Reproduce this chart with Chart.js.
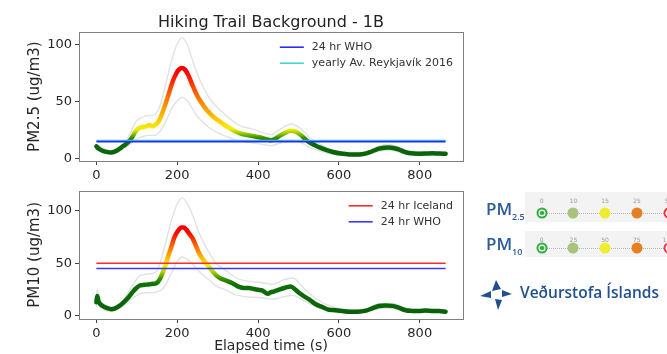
<!DOCTYPE html>
<html>
<head>
<meta charset="utf-8">
<script src="https://cdn.jsdelivr.net/npm/chart.js@4.4.0/dist/chart.umd.min.js"></script>
<style>
  body { margin: 0; background: #fff; width: 667px; height: 354px; overflow: hidden; position: relative; font-family: "DejaVu Sans", sans-serif; }
  canvas { position: absolute; left: 0; }
  #topChart { top: 0; }
  #botChart { top: 180px; }
  .abs { position: absolute; white-space: nowrap; }
  .box { background: #f3f3f3; }
  .pm { font-family: "Open Sans", sans-serif; font-weight: 600; color: #2d5b98; font-size: 17px; line-height: 1; }
  .sub { font-family: "Open Sans", sans-serif; font-weight: 600; color: #2d5b98; font-size: 9px; line-height: 1; }
  .num { font-size: 6px; color: #9a9a9a; line-height: 1; transform: translateX(-50%); }
  .dot { width: 11px; height: 11px; border-radius: 50%; box-sizing: border-box; transform: translate(-50%, -50%); }
  .dots { border-top: 1px dotted #b5b5b5; height: 0; }
  .logo { font-family: "Open Sans", sans-serif; font-weight: 600; color: #21508f; font-size: 15.5px; line-height: 1; }
</style>
</head>
<body>
<canvas id="topChart" width="480" height="186"></canvas>
<canvas id="botChart" width="480" height="174"></canvas>
<div id="panel"></div>
<script>
// elapsed time (s) and PM2.5 mean (ug/m3)
var pm25Time = [0,5,15,25,37,50,62,74,85,99,107,115,125,131,138,143,150,156,164,172,180,189,198,205,212,218,225,232,239,247,255,267,280,292,305,317,329,341,354,370,387,403,420,432,442,453,466,480,495,507,517,527,540,552,568,585,605,626,650,665,675,687,699,712,724,737,749,761,773,786,798,815,831,848,864];
var pm25Mean = [10.8,9,7,6,5.5,7,10,13,17,25,27,27.8,28.5,29.5,28.5,29,31,34,41,49,58,68,75,78.5,79.5,78.5,75,69.5,63.4,57,51.8,45.5,40,36,32.7,29.5,27,24.5,22.5,21,20,18.8,17.2,16.3,17.5,20,22.5,24.5,23.5,20.5,17,14.3,12,10,7.8,5.9,4.5,3.8,3.8,4.5,5.5,7.2,8.8,9.7,9.9,9.2,7.9,6.2,5,4.5,4.4,4.5,4.7,4.5,4.4];
// PM2.5 spread (upper / lower grey lines)
var pm25BandTime = [0,37,74,99,115,131,143,156,172,189,205,212,225,239,255,280,305,329,354,387,420,432,453,482,507,527,552,585,626,650,675,699,724,749,773,798,831,864];
var pm25Upper = [12.5,7,16,33,36.5,38,38.5,45,66,90,104,106,100,85,70,53,43,35.5,29,26,22,21,25.5,30.5,26,18.5,13,7.7,5,5,7,11,12.5,10,6.5,5.7,6,5.7];
var pm25Lower = [9,4,10,17,19.5,20.5,20.5,23.5,33,46,52.5,53.8,51,43,35,27,22,18.5,15.5,14,12,11.5,13.5,16.5,14,10,7,4,2.6,2.6,4,6.5,7.3,5.8,3.6,3.2,3.4,3.2];
var pm25RefValues = [15, 16];
var pm25RefLabels = ['24 hr WHO', 'yearly Av. Reykjavík 2016'];

// PM10
var pm10Time = [0,2,5,10,20,30,37,45,55,66,78,91,99,107,118,131,140,148,157,165,171,177,185,193,202,210,216,222,230,239,247,255,265,276,286,296,308,321,337,350,365,378,390,400,410,424,432,440,452,465,481,492,502,512,527,543,558,572,585,605,626,647,667,685,699,715,732,748,765,781,798,815,831,848,864];
var pm10Mean = [13,19,14,11,8.5,7,6.2,6.8,9,12.4,17,23.3,26.5,28.9,29.5,30,30.5,31,35,42,48,56,65,74.6,81,84,84,82.3,78,73,66,59,53,48,43,38.8,35.5,33.5,31,28,26.5,26.4,25.5,24.8,24.2,21,22.5,23.3,24.9,26.5,28,25,21.7,19,15.5,11,8.5,6.2,5.5,4.8,4,4,5,7.5,9.3,9.8,9.5,7.8,5.3,4.7,4.5,5,4.6,4.5,4];
var pm10BandTime = [0,2,10,37,66,91,107,131,148,165,185,202,212,225,239,255,276,296,321,346,375,400,420,437,461,486,511,544,585,626,667,699,732,765,798,831,864];
var pm10Upper = [18,25,14,8,15,30,38,40,42,60,90,108,112,107,95,78,62,50,43,36,33,32,31,30,34,36,27,16,8.5,5.5,6.5,11.5,12,7,6,6,5.5];
var pm10Lower = [9,13,8,4.5,9.5,17,21,22,22.5,26,40,53,56,54,49,42,35,28.5,24.5,20,18,17.5,16.5,16,18,19.5,15,8.5,4.5,2.8,3.5,7,7,4,3.5,3.5,3];
var pm10RefValues = [50, 45];
var pm10RefLabels = ['24 hr Iceland', '24 hr WHO'];

var xTicks = [0, 200, 400, 600, 800];
var yTicks = [0, 50, 100];

// side panel scales
var pm25Scale = ['0', '10', '15', '25', '50'];
var pm10Scale = ['0', '25', '50', '75', '100'];

Chart.defaults.font.family = 'DejaVu Sans';
Chart.defaults.color = '#262626';

function pts(xs, ys) {
  return xs.map(function (x, i) { return { x: x, y: ys[i] }; });
}

function refLine(times, v) {
  return [{ x: times[0], y: v }, { x: times[times.length - 1], y: v }];
}

// colour of the mean line depends on its value -> vertical gradient
function valueGradient(stops) {
  return function (context) {
    var chart = context.chart;
    if (!chart.chartArea) return stops[0][1];
    var y = chart.scales.y;
    var top = stops[stops.length - 1][0];
    var g = chart.ctx.createLinearGradient(0, y.getPixelForValue(0), 0, y.getPixelForValue(top));
    stops.forEach(function (s) { g.addColorStop(s[0] / top, s[1]); });
    return g;
  };
}

var framePlugin = {
  id: 'frame',
  afterDatasetsDraw: function (chart) {
    var a = chart.chartArea, ctx = chart.ctx;
    ctx.save();
    ctx.strokeStyle = '#808080';
    ctx.lineWidth = 1;
    ctx.strokeRect(Math.round(a.left) + 0.5, Math.round(a.top) + 0.5, Math.round(a.right - a.left), Math.round(a.bottom - a.top));
    ctx.restore();
  }
};

var insideLegend = {
  id: 'insideLegend',
  afterDatasetsDraw: function (chart) {
    var items = chart.data.datasets.filter(function (d) { return d.inLegend; });
    var a = chart.chartArea, ctx = chart.ctx;
    ctx.save();
    ctx.font = '11px "DejaVu Sans"';
    var w = 0;
    items.forEach(function (d) { w = Math.max(w, ctx.measureText(d.label).width); });
    var left = a.right - 10 - w - 32;
    items.forEach(function (d, i) {
      var y = a.top + 15 + i * 16;
      ctx.strokeStyle = d.borderColor;
      ctx.lineWidth = 1.6;
      ctx.beginPath();
      ctx.moveTo(left, y);
      ctx.lineTo(left + 24, y);
      ctx.stroke();
      ctx.fillStyle = '#333';
      ctx.textBaseline = 'middle';
      ctx.fillText(d.label, left + 32, y);
    });
    ctx.restore();
  }
};

function makeChart(id, o) {
  var datasets = [
    { label: 'upper', data: pts(o.bandTime, o.upper), borderColor: '#e2e2e2', borderWidth: 1.4, pointRadius: 0, tension: 0.4, cubicInterpolationMode: 'monotone', order: 5 },
    { label: 'lower', data: pts(o.bandTime, o.lower), borderColor: '#e2e2e2', borderWidth: 1.4, pointRadius: 0, tension: 0.4, cubicInterpolationMode: 'monotone', order: 5 },
    { label: 'mean', data: pts(o.time, o.mean), borderColor: valueGradient(o.stops), borderWidth: 4.5, pointRadius: 0, tension: 0.4, cubicInterpolationMode: 'monotone', borderCapStyle: 'round', order: 3 }
  ];
  o.refValues.forEach(function (v, i) {
    datasets.push({ label: o.refLabels[i], data: refLine(o.time, v), borderColor: o.refColors[i], borderWidth: 1.6, pointRadius: 0, inLegend: true, order: o.refOrder[i] });
  });
  return new Chart(document.getElementById(id), {
    type: 'line',
    data: { datasets: datasets },
    plugins: [framePlugin, insideLegend],
    options: {
      responsive: false,
      animation: false,
      layout: { padding: o.padding },
      plugins: {
        legend: { display: false },
        tooltip: { enabled: false },
        title: { display: !!o.title, text: o.title, fullSize: false, color: '#222', font: { size: 16, weight: 'normal' }, padding: { top: 13, bottom: 0 } }
      },
      scales: {
        x: {
          type: 'linear', min: -43, max: 907,
          afterBuildTicks: function (s) { s.ticks = xTicks.map(function (v) { return { value: v }; }); },
          afterFit: function (s) { s.height = o.xHeight; },
          grid: { drawOnChartArea: false, tickLength: 4, tickColor: '#444' },
          border: { display: false },
          ticks: { font: { size: 13 }, padding: 3, maxRotation: 0 },
          title: { display: !!o.xTitle, text: o.xTitle, font: { size: 14 }, padding: { top: 0, bottom: -1 } }
        },
        y: {
          type: 'linear', min: o.yMin, max: o.yMax,
          afterBuildTicks: function (s) { s.ticks = yTicks.map(function (v) { return { value: v }; }); },
          afterFit: function (s) { s.width = 57; },
          grid: { drawOnChartArea: false, tickLength: 4, tickColor: '#444' },
          border: { display: false },
          ticks: { font: { size: 13 }, padding: 3 },
          title: { display: true, text: o.yTitle, font: { size: 15 }, padding: { top: 4, bottom: 4 } }
        }
      }
    }
  });
}

makeChart('topChart', {
  time: pm25Time, mean: pm25Mean, bandTime: pm25BandTime, upper: pm25Upper, lower: pm25Lower,
  refValues: pm25RefValues, refLabels: pm25RefLabels, refColors: ['#2a2aff', '#45d3d3'], refOrder: [1, 2],
  stops: [[0, '#08600a'], [14, '#0b6c08'], [18, '#2a8a00'], [22, '#90c800'], [26, '#f2ef00'], [33, '#ffd000'], [45, '#ff9800'], [60, '#ff5500'], [76, '#ff0000']],
  title: 'Hiking Trail Background - 1B', yTitle: 'PM2.5 (ug/m3)', xTitle: '',
  yMin: -2, yMax: 111, xHeight: 25,
  padding: { left: 22, right: 17, top: 0, bottom: 0 }
});

makeChart('botChart', {
  time: pm10Time, mean: pm10Mean, bandTime: pm10BandTime, upper: pm10Upper, lower: pm10Lower,
  refValues: pm10RefValues, refLabels: pm10RefLabels, refColors: ['#ff2a2a', '#3a3aff'], refOrder: [2, 1],
  stops: [[0, '#08600a'], [30, '#0e7008'], [36, '#3e9600'], [42, '#b6d300'], [48, '#f5f000'], [56, '#ffb400'], [66, '#ff6a00'], [80, '#ff0000']],
  title: '', yTitle: 'PM10 (ug/m3)', xTitle: 'Elapsed time (s)',
  yMin: -3, yMax: 119, xHeight: 35,
  padding: { left: 22, right: 17, top: 7.5, bottom: 0 }
});

// side panel: air quality index key and logo
var panel = document.getElementById('panel');
function el(cls, style, text) {
  var d = document.createElement('div');
  d.className = 'abs ' + cls;
  Object.keys(style).forEach(function (k) { d.style[k] = style[k]; });
  if (text) d.textContent = text;
  panel.appendChild(d);
  return d;
}
var dotColors = [
  { background: '#fff', border: '2px solid #2fae3a' },
  { background: '#a7c37c', border: 'none' },
  { background: '#f0ec30', border: 'none' },
  { background: '#e4801f', border: 'none' },
  { background: '#fff', border: '2px solid #e83a3a' }
];
function keyRow(top, h, labels, sub) {
  el('box', { left: '525px', top: top + 'px', width: '150px', height: h + 'px' });
  var cy = top + h - 9.5;
  el('dots', { left: '542px', top: cy + 'px', width: '126px' });
  labels.forEach(function (t, i) {
    var x = 541.7 + i * 31.7;
    el('num', { left: x + 'px', top: (top + 6) + 'px' }, t);
    var c = dotColors[i];
    el('dot', { left: x + 'px', top: cy + 'px', background: c.background, border: c.border });
    if (i === 0) el('dot', { left: (x + 0.5) + 'px', top: (cy + 0.5) + 'px', width: '5px', height: '4px', background: '#2fae3a' });
  });
  el('pm', { left: '486px', top: (cy - 13) + 'px' }, 'PM');
  el('sub', { left: '512px', top: (cy - 1) + 'px' }, sub);
}
keyRow(192, 30, pm25Scale, '2.5');
keyRow(231, 26, pm10Scale, '10');
el('logo', { left: '520px', top: '285px' }, 'Veðurstofa Íslands');
panel.insertAdjacentHTML('beforeend',
  '<svg class="abs" style="left:478px;top:278px" width="36" height="34" viewBox="478 278 36 34">' +
  '<polygon points="492,291 496,280 501,289" fill="#21508f"/>' +
  '<polygon points="502,290 512,294 502,297" fill="#21508f"/>' +
  '<polygon points="495,299 498,310 502,300" fill="#21508f"/>' +
  '<polygon points="480,296 491,291 491,298" fill="#21508f"/>' +
  '</svg>');
</script>
</body>
</html>
